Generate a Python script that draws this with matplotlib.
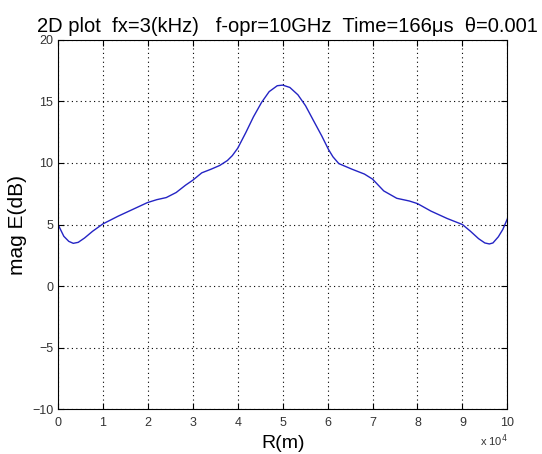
import matplotlib.pyplot as plt
import numpy as np

plt.rcParams['font.family'] = ['Liberation Sans', 'DejaVu Sans']

# range samples (x 1e4 m) and field magnitude (dB)
r = [0.0, 0.02, 0.13, 0.24, 0.34, 0.45, 0.59, 0.77, 1.0, 1.34, 1.63, 1.99,
     2.2, 2.41, 2.63, 2.84, 3.0, 3.2, 3.41, 3.6, 3.77, 3.88, 4.0, 4.18, 4.35,
     4.53, 4.7, 4.88, 5.0, 5.16, 5.34, 5.51, 5.69, 5.87, 6.02, 6.12, 6.25,
     6.54, 6.82, 7.0, 7.25, 7.54, 7.82, 8.0, 8.3, 8.66, 9.0, 9.18, 9.36, 9.5,
     9.6, 9.68, 9.8, 9.9, 10.0]
mag = [5.0, 4.86, 4.04, 3.63, 3.47, 3.55, 3.9, 4.45, 5.05, 5.68, 6.17, 6.78,
       7.02, 7.19, 7.6, 8.2, 8.6, 9.2, 9.5, 9.8, 10.2, 10.6, 11.2, 12.47,
       13.75, 14.92, 15.8, 16.28, 16.33, 16.14, 15.54, 14.65, 13.42, 12.2,
       11.1, 10.5, 9.95, 9.5, 9.1, 8.69, 7.73, 7.13, 6.91, 6.7, 6.09, 5.49,
       5.0, 4.45, 3.85, 3.5, 3.42, 3.5, 4.0, 4.6, 5.45]

fig = plt.figure(figsize=(5.42, 4.54), dpi=100)
ax = fig.add_axes([0.107, 0.099, 0.829, 0.813])

ax.plot(r, mag, color='#2424c4', lw=1.0)

ax.set_xlim(0, 10)
ax.set_ylim(-10, 20)
ax.set_xticks(np.arange(0, 11, 1))
ax.set_yticks(np.arange(-10, 21, 5))
ax.tick_params(direction='in', top=True, right=True, labelsize=9,
               labelcolor='#333333', length=4)
ax.tick_params(axis='x', pad=6)
ax.grid(True, linestyle=(0, (1, 3)), color='black', linewidth=0.8)

ax.set_xlabel('R(m)', fontsize=14, labelpad=4)
ax.set_ylabel('mag E(dB)', fontsize=15)
ax.yaxis.set_label_coords(-0.068, 0.5)
ax.set_title('2D plot  fx=3(kHz)   f-opr=10GHz  Time=166\u03bcs  \u03b8=0.001',
             fontsize=14.5, pad=6, x=0.51)
ax.text(1.0, -0.062, 'x 10$^4$', transform=ax.transAxes, ha='right', va='top',
        fontsize=8, color='#333333')

for s in ax.spines.values():
    s.set_linewidth(0.8)

fig.savefig('out.png', dpi=100)
